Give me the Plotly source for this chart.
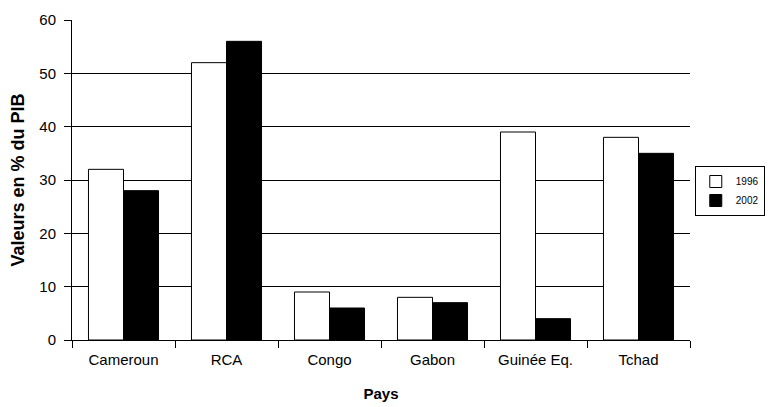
import plotly.graph_objects as go

pays = ["Cameroun", "RCA", "Congo", "Gabon", "Guinée Eq.", "Tchad"]
v1996 = [32, 52, 9, 8, 39, 38]
v2002 = [28, 56, 6, 7, 4, 35]
y_ticks = [0, 10, 20, 30, 40, 50, 60]

FONT = "Liberation Sans, Arial, sans-serif"

fig = go.Figure()
fig.add_trace(go.Bar(x=pays, y=v1996, name="1996",
                     marker=dict(color="white", line=dict(color="black", width=1))))
fig.add_trace(go.Bar(x=pays, y=v2002, name="2002",
                     marker=dict(color="black", line=dict(color="black", width=1))))

# page body adds an 8px offset, so the figure is sized 8px smaller
fig.update_layout(
    width=771, height=399,
    margin=dict(l=64, r=89, t=12, b=67, autoexpand=False),
    paper_bgcolor="white", plot_bgcolor="white",
    barmode="group", bargap=0.32, bargroupgap=0,
    font=dict(family=FONT, size=15, color="black"),
    legend=dict(x=1.121, y=0.4656, xanchor="right", yanchor="middle",
                bordercolor="black", borderwidth=1, bgcolor="white",
                font=dict(size=10, color="black"), itemwidth=30, tracegroupgap=0),
    showlegend=True,
)
fig.update_xaxes(
    showline=True, linecolor="black", linewidth=1,
    ticks="outside", tickson="boundaries", ticklen=7, tickcolor="black",
    tickfont=dict(size=15, color="black"), ticklabelstandoff=6,
    showgrid=False,
    title=dict(text="<b>Pays</b>", font=dict(size=15, color="black"), standoff=21),
)
fig.update_yaxes(
    range=[0, 60], tickvals=y_ticks,
    showline=True, linecolor="black", linewidth=1,
    ticks="outside", ticklen=7, tickcolor="black",
    tickfont=dict(size=15, color="black"), ticklabelstandoff=5,
    showgrid=True, gridcolor="black", gridwidth=1,
    zeroline=False,
    title=dict(text="<b>Valeurs en % du PIB</b>", font=dict(size=18, color="black"), standoff=10),
)

fig.write_html("out.html")
